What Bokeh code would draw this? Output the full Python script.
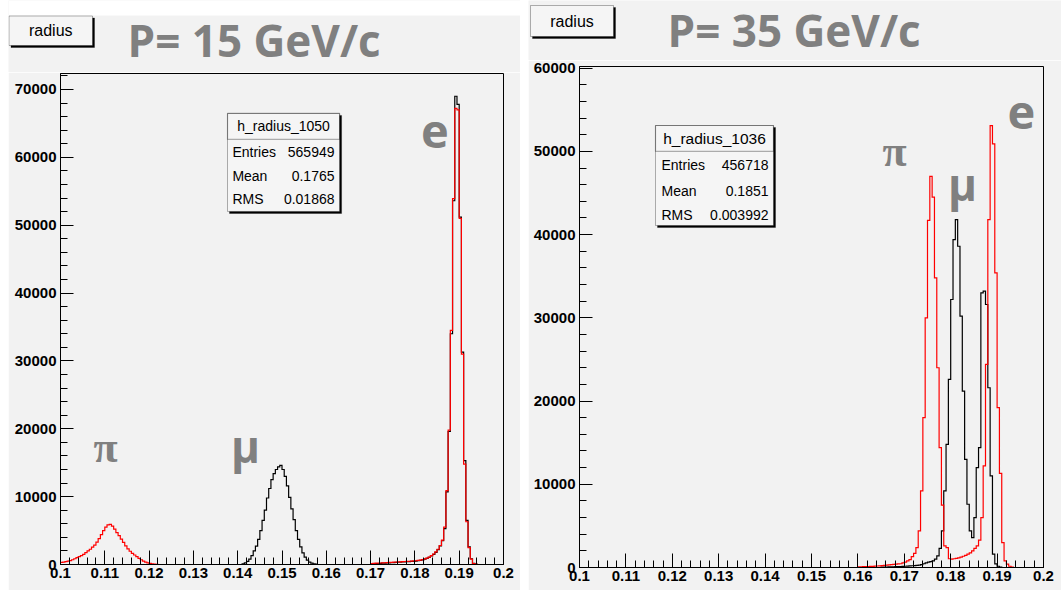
import numpy as np
from bokeh.plotting import figure
from bokeh.layouts import row, column, Spacer
from bokeh.models import (Range1d, SingleIntervalTicker, CustomJSTickFormatter,
                          Label, BoxAnnotation)
from bokeh.embed import file_html
from bokeh.resources import INLINE

# ---------------- data (histogram bin contents, bin width 0.0005) ----------------
BIN_WIDTH = 0.0005
X_MIN, X_MAX = 0.1, 0.2

# P = 15 GeV/c
P15_RED_PI_START = 0.1000
P15_RED_PI = [300, 350, 420, 500, 580, 700, 850, 1000, 1150, 1300, 1500, 1750, 2000,
              2250, 2550, 2850, 3300, 3800, 4400, 5000, 5500, 5850, 5900, 5650, 5200,
              4700, 4250, 3750, 3250, 2750, 2300, 1950, 1650, 1400, 1150, 900, 700,
              500, 350, 250, 160, 100, 60, 40]
P15_RED_E_START = 0.1700
P15_RED_E = [150, 170, 190, 200, 220, 240, 260, 280, 300, 320, 340, 360, 380, 400,
             420, 440, 460, 480, 500, 520, 550, 600, 650, 720, 820, 950, 1100, 1300,
             1550, 1850, 2250, 2800, 3600, 5500, 10900, 19800, 34500, 53900, 67200,
             67000, 51000, 31000, 14800, 6300, 2500, 800, 150, 50]
P15_BLACK_MU_START = 0.1410
P15_BLACK_MU = [100, 250, 450, 800, 1300, 2000, 2700, 3700, 5000, 6500, 8000, 9800,
                11200, 12500, 13400, 14000, 14400, 14600, 14000, 13000, 11600, 9900,
                8200, 6600, 5000, 3700, 2600, 1700, 1100, 650, 350, 200, 100, 50]
P15_BLACK_E_START = 0.1700
P15_BLACK_E = [100, 120, 140, 150, 170, 190, 210, 230, 250, 270, 290, 310, 330, 350,
               370, 390, 410, 430, 450, 470, 500, 550, 600, 680, 780, 900, 1050, 1250,
               1500, 1800, 2200, 2750, 3500, 5300, 10700, 19600, 34000, 53600, 69000,
               67800, 51200, 31300, 15300, 6500, 2600, 850, 180, 60]

# P = 35 GeV/c
P35_RED_START = 0.1600
P35_RED = [80, 90, 100, 110, 120, 130, 140, 160, 180, 200, 230, 260, 290, 320, 350,
           380, 400, 430, 450, 550, 640, 800, 950, 1300, 1700, 2400, 4400, 9200, 18000,
           30000, 41700, 47000, 44500, 34800, 24000, 14400, 7500, 2600, 2400, 1050,
           1000, 1050, 1100, 1150, 1250, 1350, 1450, 1600, 1750, 2000, 2300, 2600,
           3300, 6000, 12200, 24400, 41800, 53100, 50900, 35400, 19200, 11300, 3000,
           800, 400, 150, 50]
P35_BLACK_START = 0.1650
P35_BLACK = [40, 50, 60, 70, 80, 90, 100, 110, 120, 130, 150, 170, 190, 210, 230,
             250, 280, 350, 450, 550, 650, 700, 800, 1000, 1400, 2300, 4400, 9200,
             14800, 22600, 32200, 39400, 41800, 38600, 30200, 21200, 13000, 7600, 4400,
             3600, 6000, 12000, 14400, 33000, 33200, 31600, 21600, 11000, 1600, 440,
             150, 50]

P15_STATS = [("Entries", "565949"), ("Mean", "0.1765"), ("RMS", "0.01868")]
P35_STATS = [("Entries", "456718"), ("Mean", "0.1851"), ("RMS", "0.003992")]

GRAY = "#808080"
BG = "#f2f2f2"
SANS = "Liberation Sans"


def build(segments):
    n = int(round((X_MAX - X_MIN) / BIN_WIDTH))
    vals = np.zeros(n)
    for start, seg in segments:
        i0 = int(round((start - X_MIN) / BIN_WIDTH))
        vals[i0:i0 + len(seg)] = seg
    edges = X_MIN + BIN_WIDTH * np.arange(n + 1)
    return edges, np.append(vals, vals[-1])


def no_align(f):
    try:
        f.frame_align = False
    except Exception:
        pass


def make_fig(width, height, ymax, left, right, top, bottom):
    p = figure(width=width, height=height, x_range=Range1d(X_MIN, X_MAX),
               y_range=Range1d(0, ymax), output_backend="svg", toolbar_location=None,
               min_border_left=left, min_border_right=right, min_border_top=top,
               min_border_bottom=bottom)
    no_align(p)
    p.background_fill_color = BG
    p.border_fill_color = BG
    p.grid.visible = False
    p.outline_line_color = "black"
    p.outline_line_width = 1
    xa = p.xaxis[0]
    xa.ticker = SingleIntervalTicker(interval=0.01, num_minor_ticks=5)
    xa.formatter = CustomJSTickFormatter(code="return parseFloat(tick.toFixed(2)).toString();")
    xa.major_tick_in = 14
    xa.major_tick_out = 0
    xa.minor_tick_in = 7
    xa.minor_tick_out = 0
    xa.major_label_standoff = 3
    ya = p.yaxis[0]
    ya.ticker = SingleIntervalTicker(interval=10000, num_minor_ticks=5)
    ya.formatter = CustomJSTickFormatter(code="return tick.toFixed(0);")
    ya.major_tick_in = 13
    ya.major_tick_out = 0
    ya.minor_tick_in = 7
    ya.minor_tick_out = 0
    ya.major_label_standoff = 4
    for ax in (xa, ya):
        ax.axis_line_color = "black"
        ax.major_tick_line_color = "black"
        ax.minor_tick_line_color = "black"
        ax.major_label_text_font = SANS
        ax.major_label_text_font_style = "bold"
        ax.major_label_text_color = "black"
        ax.major_label_text_font_size = "15px"
    return p


def make_header(width, height):
    # pixel-coordinate strip above a panel (y grows downwards)
    h = figure(width=width, height=height, x_range=Range1d(0, width),
               y_range=Range1d(height, 0), x_axis_type=None, y_axis_type=None,
               output_backend="svg", toolbar_location=None, min_border=0)
    no_align(h)
    h.background_fill_color = BG
    h.border_fill_color = BG
    h.outline_line_color = None
    h.grid.visible = False
    return h


def add_hist(p, segments, color):
    x, y = build(segments)
    p.step(x, y, mode="after", line_color=color, line_width=1.2, line_join="miter")


def add_stats(p, name, stats, l, r, b, t, sep, sx, sy, name_x, val_x, rows_y, title_size, row_size):
    p.add_layout(BoxAnnotation(left=l + sx, right=r + sx, bottom=b - sy, top=t - sy,
                               fill_color="black", fill_alpha=1, line_color="black"))
    p.add_layout(BoxAnnotation(left=l, right=r, bottom=b, top=t, fill_color="#f5f5f5",
                               fill_alpha=1, line_color="black", line_width=1))
    p.add_layout(BoxAnnotation(left=l, right=r, bottom=sep, top=t, fill_alpha=0,
                               line_color="black", line_width=1.2))
    p.add_layout(Label(x=(l + r) / 2, y=(sep + t) / 2, text=name, text_align="center",
                       text_baseline="middle", text_font=SANS,
                       text_font_size=title_size, text_color="black"))
    for (k, v), yy in zip(stats, rows_y):
        p.add_layout(Label(x=name_x, y=yy, text=k, text_align="left", text_baseline="middle",
                           text_font=SANS, text_font_size=row_size, text_color="black"))
        p.add_layout(Label(x=val_x, y=yy, text=v, text_align="right", text_baseline="middle",
                           text_font=SANS, text_font_size=row_size, text_color="black"))


def add_header_content(h, bl, br, bt, bb, title, tx, ty):
    h.add_layout(BoxAnnotation(left=bl + 2, right=br + 2, top=bt + 2, bottom=bb + 2,
                               fill_color="black", fill_alpha=1, line_color="black"))
    h.add_layout(BoxAnnotation(left=bl, right=br, top=bt, bottom=bb, fill_color="#f5f5f5",
                               fill_alpha=1, line_color="black", line_width=1))
    h.add_layout(Label(x=(bl + br) / 2, y=(bt + bb) / 2, text="radius", text_align="center",
                       text_baseline="middle", text_font=SANS, text_font_size="16px",
                       text_color="black"))
    h.add_layout(Label(x=tx, y=ty, text=title, text_align="left", text_baseline="middle",
                       text_font="Open Sans", text_font_style="bold", text_font_size="44px",
                       text_color=GRAY))


def greek(p, x, y, t, font, size):
    p.add_layout(Label(x=x, y=y, text=t, text_align="center", text_baseline="alphabetic",
                       text_font=font, text_font_size=size, text_font_style="bold",
                       text_color=GRAY))


# ---------------- left: P = 15 GeV/c  (page origin (8, 0)) ----------------
h1 = make_header(512, 72)
h1.add_layout(BoxAnnotation(left=0, right=512, top=0, bottom=15, fill_color="white",
                            fill_alpha=1, line_color=None, level="underlay"))
add_header_content(h1, 0.5, 84, 15.5, 45, "P= 15 GeV/c", 119, 39)
p1 = make_fig(512, 518, 72350, 52, 17, 1, 26)
add_hist(p1, [(P15_BLACK_MU_START, P15_BLACK_MU), (P15_BLACK_E_START, P15_BLACK_E)], "black")
add_hist(p1, [(P15_RED_PI_START, P15_RED_PI), (P15_RED_E_START, P15_RED_E)], "red")
add_stats(p1, "h_radius_1050", P15_STATS, 0.1377, 0.1630, 52020, 66460, 62630,
          0.00045, 295, 0.1388, 0.16185, [60710, 57180, 53790], "14px", "14px")
greek(p1, 0.11016, 17300, "π", "Liberation Serif", "44px")
greek(p1, 0.14176, 17400, "μ", "Open Sans", "44px")
greek(p1, 0.1845, 63800, "e", "Open Sans", "47px")

# ---------------- right: P = 35 GeV/c  (page origin (528, 0)) ----------------
h2 = make_header(533, 60)
add_header_content(h2, 2, 85, 5, 36, "P= 35 GeV/c", 139, 29)
p2 = make_fig(533, 530, 60200, 51, 18, 6, 23)
add_hist(p2, [(P35_BLACK_START, P35_BLACK)], "black")
add_hist(p2, [(P35_RED_START, P35_RED)], "red")
add_stats(p2, "h_radius_1036", P35_STATS, 0.11638, 0.14181, 41090, 53110, 49990,
          0.00043, 240, 0.11767, 0.14073, [48420, 45300, 42300], "15.5px", "14px")
greek(p2, 0.16789, 50000, "π", "Liberation Serif", "44px")
greek(p2, 0.18254, 46100, "μ", "Open Sans", "44px")
greek(p2, 0.19526, 54700, "e", "Open Sans", "47px")

layout = row(Spacer(width=8), column(h1, p1), Spacer(width=8),
             column(h2, p2), spacing=0)
open("out.html", "w").write(file_html(layout, INLINE))
